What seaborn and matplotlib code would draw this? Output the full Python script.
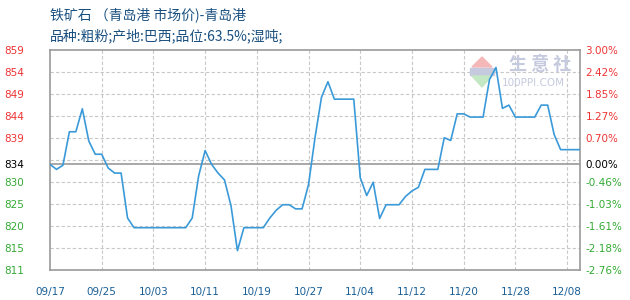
import numpy as np
import pandas as pd
import matplotlib
matplotlib.use("Agg")
import matplotlib.pyplot as plt
import seaborn as sns
from matplotlib.patches import Polygon, Rectangle

sns.set_theme(style="white")
plt.rcParams['font.family'] = ['Noto Sans CJK SC', 'DejaVu Sans']

# ---- data ----
title = "铁矿石 （青岛港 市场价)-青岛港"
subtitle = "品种:粗粉;产地:巴西;品位:63.5%;湿吨;"
x_labels = ["09/17", "09/25", "10/03", "10/11", "10/19", "10/27",
            "11/04", "11/12", "11/20", "11/28", "12/08"]
prices = [834.0, 832.9, 833.8, 841.1, 841.1, 846.1, 839.1, 836.2, 836.2, 833.2,
          832.1, 832.1, 822.3, 820.2, 820.2, 820.2, 820.2, 820.2, 820.2, 820.2,
          820.2, 820.2, 822.3, 831.5, 837.0, 834.0, 832.1, 830.6, 825.0, 815.2,
          820.2, 820.2, 820.2, 820.2, 822.3, 824.0, 825.2, 825.2, 824.3, 824.3,
          829.6, 839.8, 848.6, 852.0, 848.2, 848.2, 848.2, 848.2, 831.1, 827.2,
          830.1, 822.2, 825.2, 825.2, 825.2, 827.0, 828.2, 829.0, 832.9, 832.9,
          832.9, 839.8, 839.2, 845.0, 845.0, 844.3, 844.3, 844.3, 852.5, 855.1,
          846.2, 846.9, 844.3, 844.3, 844.3, 844.3, 846.9, 846.9, 840.5, 837.2,
          837.2, 837.2, 837.2]
base_price = 834
left_labels = ["859", "854", "849", "844", "839", "", "830", "825", "820", "815", "811"]
right_labels = ["3.00%", "2.42%", "1.85%", "1.27%", "0.70%", "", "-0.46%",
                "-1.03%", "-1.61%", "-2.18%", "-2.76%"]
pct_top, pct_bottom = 3.00, -2.76

df = pd.DataFrame({"idx": np.arange(len(prices)), "price": prices})

fig = plt.figure(figsize=(6.3, 3.0), dpi=100)
fig.patch.set_facecolor("white")
ax = fig.add_axes([50/630, 30/300, 530/630, 220.5/300])

ymax = base_price * (1 + pct_top / 100)
ymin = base_price * (1 + pct_bottom / 100)
grid_vals = np.linspace(ymax, ymin, 11)

# gridlines
for g in grid_vals[1:-1]:
    ax.axhline(g, color="#c8c8c8", lw=0.8, ls=(0, (3, 2)), zorder=1)
xt = list(range(0, 81, 8))
for t in xt[1:]:
    ax.axvline(t, color="#c8c8c8", lw=0.8, ls=(0, (3, 2)), zorder=1)
ax.axhline(base_price, color="#9a9a9a", lw=1.2, zorder=2)

# watermark (behind the line)
ax.text(540/630, 1 - 65/300, "生 意 社", fontsize=13, color="#c5cade", va="center", ha="center",
        fontweight="bold", transform=fig.transFigure, zorder=1.5)
ax.text(533/630, 1 - 83/300, "100PPI.COM", fontsize=7.5, color="#c5cade", va="center", ha="center",
        family="DejaVu Sans", transform=fig.transFigure, zorder=1.5)
for p in [Polygon([[482/630, 1 - 57/300], [472/630, 1 - 67/300], [492/630, 1 - 67/300]],
                  closed=True, color="#f5b8b8"),
          Rectangle((470/630, 1 - 75/300), 24/630, 7/300, color="#c5cade"),
          Polygon([[472/630, 1 - 76/300], [492/630, 1 - 76/300], [482/630, 1 - 87/300]],
                  closed=True, color="#c4e8c4")]:
    p.set_transform(fig.transFigure)
    p.set_zorder(1.5)
    ax.add_artist(p)

sns.lineplot(data=df, x="idx", y="price", ax=ax, color="#3a9ad9", lw=1.2, zorder=3)

ax.set_xlim(0, len(prices) - 1)
ax.set_ylim(ymin, ymax)
ax.set_xlabel("")
ax.set_ylabel("")

# left ticks
yt = list(grid_vals) + [base_price]
ylabs = left_labels + [str(base_price)]
ax.set_yticks(yt)
ax.set_yticklabels(ylabs)
ax.tick_params(axis="y", length=0, pad=33, labelsize=7.5)
for lab, v in zip(ax.get_yticklabels(), yt):
    lab.set_horizontalalignment("left")
    lab.set_family("DejaVu Sans")
    if abs(v - base_price) < 0.01:
        lab.set_color("#000000")
    elif v > base_price:
        lab.set_color("#ee3333")
    else:
        lab.set_color("#33aa33")

ax.set_xticks(xt)
ax.set_xticklabels(x_labels)
ax.tick_params(axis="x", length=0, pad=12, labelsize=7.5, labelcolor="#1a5f96")
for lab in ax.get_xticklabels():
    lab.set_family("DejaVu Sans")

for s in ax.spines.values():
    s.set_color("#9a9a9a")
    s.set_linewidth(1.2)

# right axis
ax2 = ax.twinx()
ax2.set_ylim(ymin, ymax)
ax2.set_yticks(yt)
ax2.set_yticklabels(right_labels + ["0.00%"])
ax2.tick_params(axis="y", length=0, pad=4, labelsize=7.5)
for lab, v in zip(ax2.get_yticklabels(), yt):
    lab.set_family("DejaVu Sans")
    if abs(v - base_price) < 0.01:
        lab.set_color("#000000")
    elif v > base_price:
        lab.set_color("#ee3333")
    else:
        lab.set_color("#33aa33")
for s in ax2.spines.values():
    s.set_visible(False)
ax2.grid(False)
ax2.set_zorder(ax.get_zorder() - 1)
ax.patch.set_visible(True)

# titles
fig.text(50/630, 1 - 15/300, title, fontsize=10, color="#1a5080", va="center", ha="left")
fig.text(50/630, 1 - 36/300, subtitle, fontsize=10, color="#1a5080", va="center", ha="left")

fig.savefig("out.png", dpi=100, facecolor="white")
